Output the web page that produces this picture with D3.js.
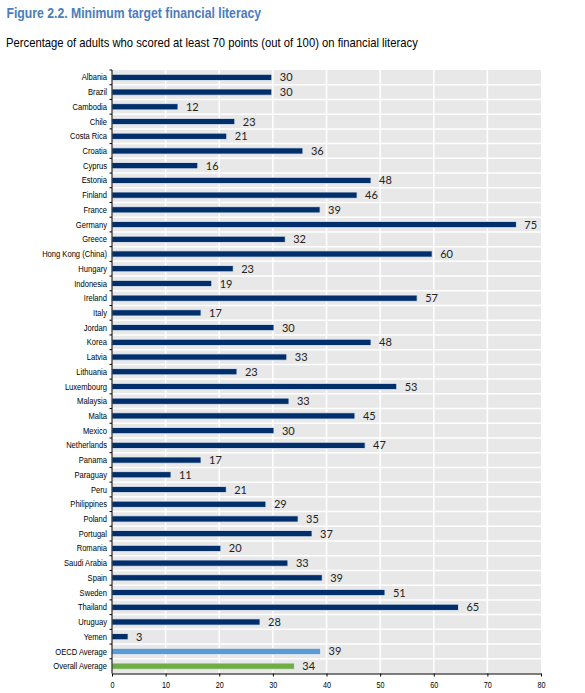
<!DOCTYPE html>
<html>
<head>
<meta charset="utf-8">
<script src="https://cdn.jsdelivr.net/npm/d3@7"></script>
<style>
  html, body { margin: 0; padding: 0; background: #fff; }
  svg { display: block; }
</style>
</head>
<body>
<svg id="chart" width="585" height="693"></svg>
<script>
const countries = ["Albania","Brazil","Cambodia","Chile","Costa Rica","Croatia","Cyprus","Estonia","Finland","France","Germany","Greece","Hong Kong (China)","Hungary","Indonesia","Ireland","Italy","Jordan","Korea","Latvia","Lithuania","Luxembourg","Malaysia","Malta","Mexico","Netherlands","Panama","Paraguay","Peru","Philippines","Poland","Portugal","Romania","Saudi Arabia","Spain","Sweden","Thailand","Uruguay","Yemen","OECD Average","Overall Average"];
const values = [29.8,29.8,12.3,22.9,21.4,35.6,16.0,48.3,45.7,38.8,75.4,32.3,59.7,22.6,18.6,56.9,16.6,30.2,48.3,32.6,23.3,53.1,33.0,45.3,30.2,47.2,16.6,11.0,21.3,28.7,34.7,37.3,20.3,32.8,39.2,50.9,64.6,27.6,3.0,38.9,34.0];
const valueLabels = [30,30,12,23,21,36,16,48,46,39,75,32,60,23,19,57,17,30,48,33,23,53,33,45,30,47,17,11,21,29,35,37,20,33,39,51,65,28,3,39,34];
const xTicks = [0,10,20,30,40,50,60,70,80];
const kinds = countries.map(c => c === "OECD Average" ? "oecd" : (c === "Overall Average" ? "overall" : "country"));

const colors = { country: "#002F6C", oecd: "#5B9BD5", overall: "#70AD47" };
const sans = "'Liberation Sans',Arial,sans-serif";

const svg = d3.select("#chart");

// draw text condensed horizontally to reach a target width (narrow-font look)
function condensedText(x0, y0, str, size, weight, fill, targetW) {
  const t = svg.append("text")
    .attr("x", 0).attr("y", 0)
    .attr("font-family", sans).attr("font-weight", weight)
    .attr("font-size", size).attr("fill", fill)
    .text(str);
  const w = t.node().getComputedTextLength();
  t.attr("transform", `translate(${x0},${y0}) scale(${(targetW / w).toFixed(4)},1)`);
  return t;
}

condensedText(6.5, 18.3, "Figure 2.2. Minimum target financial literacy", 14, "bold", "#4A7EBB", 255);
condensedText(6, 46.7, "Percentage of adults who scored at least 70 points (out of 100) on financial literacy", 13, "normal", "#000", 412);

const pLeft = 112, pRight = 541, pTop = 70, pBottom = 673.5;

const x = d3.scaleLinear().domain([0, 80]).range([pLeft, pRight]);
const y = d3.scaleBand().domain(countries).range([pTop, pBottom]).paddingInner(0).paddingOuter(0);

// background
svg.append("rect").attr("x", pLeft).attr("y", pTop)
  .attr("width", pRight - pLeft).attr("height", pBottom - pTop)
  .attr("fill", "#E8E8E8");

// vertical gridlines
svg.append("g").selectAll("line").data(xTicks.slice(1, -1)).join("line")
  .attr("x1", d => x(d)).attr("x2", d => x(d))
  .attr("y1", pTop).attr("y2", pBottom)
  .attr("stroke", "#fff").attr("stroke-width", 1.5);

// horizontal separators
svg.append("g").selectAll("line").data(countries.slice(1)).join("line")
  .attr("x1", pLeft).attr("x2", pRight)
  .attr("y1", d => y(d)).attr("y2", d => y(d))
  .attr("stroke", "#fff").attr("stroke-width", 1.5);

// bars
const bh = y.bandwidth() * 0.42;
svg.append("g").selectAll("rect").data(countries).join("rect")
  .attr("x", x(0))
  .attr("y", d => y(d) + (y.bandwidth() - bh) / 2)
  .attr("width", (d, i) => x(values[i]) - x(0))
  .attr("height", bh)
  .attr("fill", (d, i) => colors[kinds[i]])
  .attr("stroke", "#E4EAF2").attr("stroke-width", 0.8);

// value labels
svg.append("g").selectAll("text").data(countries).join("text")
  .attr("x", (d, i) => x(values[i]) + 8)
  .attr("y", d => y(d) + y.bandwidth() / 2)
  .attr("dy", "0.37em")
  .attr("font-family", "Lato, 'Open Sans', sans-serif")
  .attr("font-size", 11).attr("fill", "#222")
  .text((d, i) => valueLabels[i]);

// y axis
const ySx = 0.79;
const yAxis = d3.axisLeft(y).tickSize(0).tickPadding(5);
const gy = svg.append("g").attr("transform", `translate(${pLeft},0)`).call(yAxis);
gy.select(".domain").remove();
gy.selectAll("text")
  .attr("font-family", sans).attr("font-size", 9.6).attr("fill", "#000")
  .attr("x", -5 / ySx)
  .attr("transform", `scale(${ySx},1)`);
svg.append("line").attr("x1", pLeft).attr("x2", pLeft).attr("y1", pTop).attr("y2", pBottom)
  .attr("stroke", "#000").attr("stroke-width", 1);
// left tick marks at band boundaries
svg.append("g").selectAll("line").data(countries).join("line")
  .attr("x1", pLeft - 2.5).attr("x2", pLeft)
  .attr("y1", d => y(d)).attr("y2", d => y(d))
  .attr("stroke", "#000").attr("stroke-width", 1);

// x axis
const xSx = 0.88;
const xAxis = d3.axisBottom(x).tickValues(xTicks).tickSize(3).tickPadding(6).tickSizeOuter(0);
const gx = svg.append("g").attr("transform", `translate(0,${pBottom})`).call(xAxis);
gx.select(".domain").attr("stroke", "#000");
gx.selectAll(".tick line").attr("stroke", "#000");
gx.selectAll("text")
  .attr("font-family", sans).attr("font-size", 8.2).attr("fill", "#000")
  .attr("transform", `scale(${xSx},1)`);
</script>
</body>
</html>
